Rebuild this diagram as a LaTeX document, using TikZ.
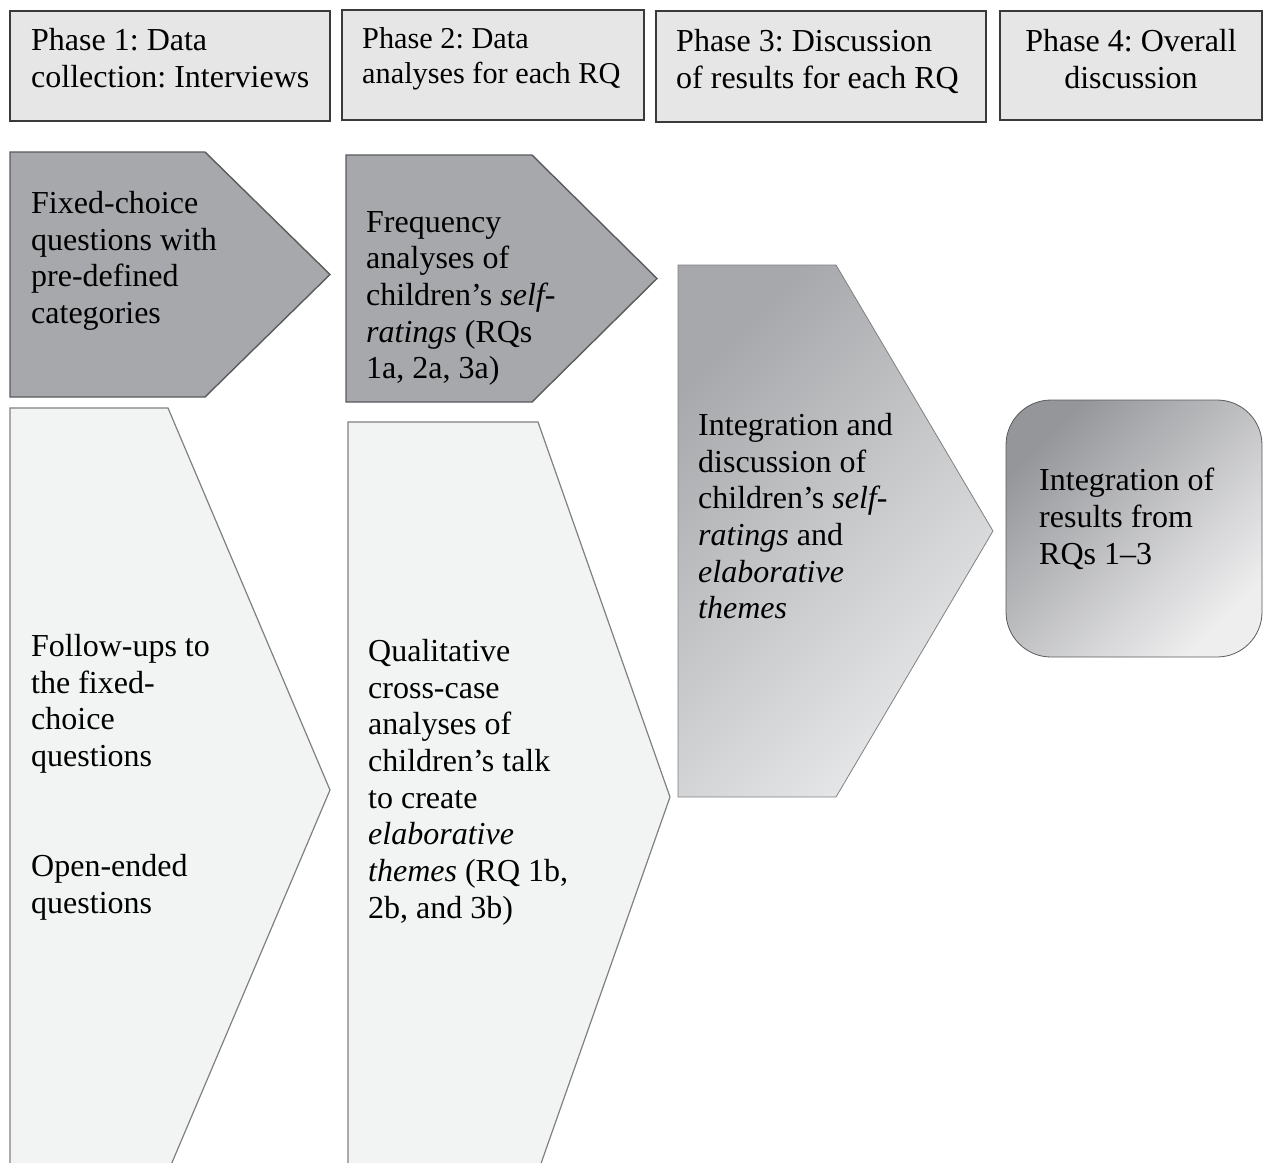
\documentclass[tikz,border=0pt]{standalone}
\usepackage{fontspec}
\setmainfont{Liberation Serif}
\frenchspacing
\definecolor{headfill}{HTML}{E6E6E6}
\definecolor{headline}{HTML}{3A3A3A}
\definecolor{darkfill}{HTML}{A7A8AB}
\definecolor{darkline}{HTML}{5A5B5D}
\definecolor{lightfill}{HTML}{F2F3F3}
\definecolor{lightline}{HTML}{808080}
\definecolor{gradtop}{HTML}{A7A8AB}
\definecolor{gradbot}{HTML}{E8E9EA}
\definecolor{roundtop}{HTML}{95969A}
\definecolor{roundbot}{HTML}{EEEEEF}

\begin{document}
\begin{tikzpicture}[x=1pt,y=-1pt,
  txt/.style={anchor=north west,inner sep=0pt,align=left,
    font={\fontsize{32}{36.7}\selectfont}},
  head/.style={draw=headline,fill=headfill,line width=1.5pt},
  darkarrow/.style={draw=darkline,fill=darkfill,line width=1.4pt},
  lightarrow/.style={draw=lightline,fill=lightfill,line width=1.2pt},
  shadearrow/.style={draw=lightline,line width=0.8pt,top color=gradtop,
    bottom color=gradbot,shading angle=45}]
\useasboundingbox (0,0) rectangle (1265,1162);
\clip (0,0) rectangle (1265,1162);

\draw[head] (10,11) rectangle (330,121);
\draw[head] (342,10) rectangle (644,120);
\draw[head] (656,11) rectangle (986,122);
\draw[head] (1000,11) rectangle (1262,120);

\draw[darkarrow] (10,152) -- (205,152) -- (330,274.5) -- (205,397) -- (10,397) -- cycle;
\draw[darkarrow] (346,155) -- (532,155) -- (657,278.5) -- (532,402) -- (346,402) -- cycle;
\draw[lightarrow] (10,408) -- (168,408) -- (330,790) -- (168,1172) -- (10,1172) -- cycle;
\draw[lightarrow] (348,422) -- (538,422) -- (670,797) -- (538,1172) -- (348,1172) -- cycle;
\path[shadearrow] (678,265) -- (836,265) -- (993,531) -- (836,797) -- (678,797) -- cycle;
\path[draw=darkline,line width=0.8pt,top color=roundtop,bottom color=roundbot,
  shading angle=45,rounded corners=45] (1006,400) rectangle (1262,657);

\node[txt] (phase1) at (31,28) {Phase 1: Data\\collection: Interviews};
\node[txt,font={\fontsize{30.3}{35}\selectfont}] (phase2) at (362,27) {Phase 2: Data\\analyses for each RQ};
\node[txt] (phase3) at (676,29) {Phase 3: Discussion\\of results for each RQ};
\node[txt,anchor=north,align=center] (phase4) at (1131,29) {Phase 4: Overall\\discussion};

\node[txt] (fixed) at (31,191) {Fixed-choice\\questions with\\pre-defined\\categories};
\node[txt] (freq) at (366,211) {Frequency\\analyses of\\children's \textit{self-}\\\textit{ratings} (RQs\\1a, 2a, 3a)};
\node[txt] (follow) at (31,634) {Follow-ups to\\the fixed-\\choice\\questions\\[73.4pt]Open-ended\\questions};
\node[txt] (qual) at (368,639) {Qualitative\\cross-case\\analyses of\\children's talk\\to create\\\textit{elaborative}\\\textit{themes} (RQ 1b,\\2b, and 3b)};
\node[txt] (integ) at (698,413) {Integration and\\discussion of\\children's \textit{self-}\\\textit{ratings} and\\\textit{elaborative}\\\textit{themes}};
\node[txt] (overall) at (1039,468) {Integration of\\results from\\RQs 1--3};
\end{tikzpicture}
\end{document}
